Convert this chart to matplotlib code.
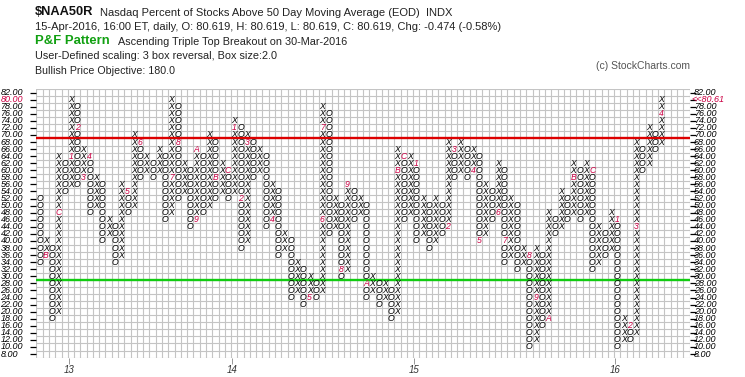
import matplotlib
matplotlib.use('Agg')
import matplotlib.pyplot as plt
from matplotlib import transforms

plt.rcParams['font.family'] = ['Liberation Sans', 'DejaVu Sans']

# ---- point & figure columns (box size 2.0, 3 box reversal) ----
col_kind = list('OXOXOXOXOXOXOXOXOXOXOXOXOXOXOXOXOXOXOXOXOXOXOXOXOXOXOXOXOXOXOXOXOXOXOXOXOXOXOXOXOXOXOXOXOXOXOXOXOXOX')
col_low = [34, 36, 18, 20, 54, 56, 56, 58, 48, 50,
           40, 42, 34, 36, 48, 50, 58, 60, 58, 60,
           46, 48, 52, 54, 44, 46, 48, 50, 52, 54,
           52, 54, 38, 40, 58, 60, 44, 46, 36, 38,
           24, 26, 22, 24, 24, 26, 42, 44, 30, 32,
           46, 48, 24, 26, 22, 24, 18, 20, 46, 48,
           40, 42, 38, 40, 42, 44, 58, 60, 58, 60,
           40, 42, 46, 48, 34, 36, 32, 34, 10, 12,
           16, 18, 42, 44, 46, 48, 46, 48, 32, 34,
           36, 38, 10, 12, 12, 14, 60, 62, 66, 68]
col_high = [52, 40, 38, 64, 62, 80, 78, 66, 64, 58,
            56, 46, 44, 56, 54, 70, 68, 64, 62, 66,
            64, 80, 78, 62, 60, 66, 64, 70, 68, 62,
            60, 74, 72, 70, 68, 66, 64, 56, 54, 42,
            40, 34, 32, 30, 28, 78, 76, 52, 50, 56,
            54, 52, 50, 30, 28, 28, 26, 66, 64, 64,
            62, 52, 50, 52, 50, 68, 66, 68, 66, 66,
            64, 56, 54, 62, 60, 52, 50, 38, 36, 38,
            36, 48, 46, 54, 52, 62, 60, 62, 60, 44,
            42, 48, 46, 18, 16, 68, 66, 72, 70, 80]

# month markers drawn in place of a box
mark_col = [1, 3, 5, 6, 7, 8, 14, 16, 21, 22, 25, 25, 28, 30,
            31, 32, 33, 37, 43, 45, 45, 48, 49, 52, 57, 58,
            60, 65, 66, 69, 70, 73, 74, 78, 79, 81, 85, 88,
            92, 94, 95, 99]
mark_price = [36, 48, 64, 72, 58, 64, 54, 68, 58, 68, 46, 66, 58, 60,
              72, 52, 68, 46, 24, 46, 72, 32, 56, 28, 60, 64,
              62, 44, 66, 60, 40, 48, 40, 36, 24, 18, 58, 60,
              46, 16, 44, 76]
mark_text = ['B', 'C', '1', '2', '3', '4', '5', '6', '7', '8', '9', 'A', 'B', 'C',
             '1', '2', '3', '4', '5', '6', '7', '8', '9', 'A', 'B', 'C',
             '1', '2', '3', '4', '5', '6', '7', '8', '9', 'A', 'B', 'C',
             '1', '2', '3', '4']

year_cols = [5, 31, 60, 92]
year_text = ['13', '14', '15', '16']

price_ticks = list(range(8, 84, 2))
last_price = 80.61
red_level = 69
green_level = 29
n_grid_cols = 104

W, H = 745, 377
fig = plt.figure(figsize=(W / 100, H / 100), dpi=100)
gx0, gx1, gy0, gy1 = 36.4, 689.5, 89.0, 357.6
ax = fig.add_axes([gx0 / W, 1 - gy1 / H, (gx1 - gx0) / W, (gy1 - gy0) / H])
ax.set_xlim(-0.5, n_grid_cols - 0.5)
ax.set_ylim(7, 83)
for s in ax.spines.values():
    s.set_visible(False)

# grid
for i in range(n_grid_cols + 1):
    ax.axvline(i - 0.5, color='#c4c4c4', lw=0.8, zorder=0)
for p in range(7, 84, 2):
    ax.axhline(p, color='#c4c4c4', lw=0.8, zorder=0)

ax.axhline(red_level, color='#dd0000', lw=1.7, zorder=1)
ax.axhline(green_level, color='#11cc11', lw=1.7, zorder=1)

# boxes: X / O, month number in place of the first box of a month
marks = {(c, p): t for c, p, t in zip(mark_col, mark_price, mark_text)}
for i, (k, lo, hi) in enumerate(zip(col_kind, col_low, col_high)):
    for p in range(lo, hi + 2, 2):
        t = marks.get((i, p))
        if t:
            ax.text(i, p, t, color='#cc0044', fontsize=6.2, style='italic',
                    ha='center', va='center', zorder=3)
        else:
            ax.text(i, p, k, color='black', fontsize=6.2, style='italic',
                    ha='center', va='center', zorder=3)

# axes ticks and labels
ax.set_yticks(price_ticks)
ax.set_yticklabels([])
ax.tick_params(axis='y', left=True, right=True, length=4, width=0.9,
               direction='out', color='black')
ax.set_xticks([c - 0.3 for c in year_cols])
ax.set_xticklabels(year_text, fontsize=7, style='italic', color='#333333')
ax.tick_params(axis='x', length=4, width=0.6, color='#888888', pad=1.5)

lt = transforms.blended_transform_factory(fig.transFigure, ax.transData)
for p in price_ticks:
    col = '#cc0044' if p == 80 else 'black'
    ax.text(0.5 / W, p, '%.2f' % p, transform=lt, fontsize=6.5, style='italic',
            color=col, ha='left', va='center')
    if p == 80:
        ax.text(691 / W, p, '<<%.2f' % last_price, transform=lt, fontsize=6.5,
                style='italic', color='#cc0044', ha='left', va='center')
    else:
        ax.text(694 / W, p, '%.2f' % p, transform=lt, fontsize=6.5,
                style='italic', color='black', ha='left', va='center')

# header text
def ftext(x, y, s, **kw):
    fig.text(x / W, 1 - y / H, s, va='center', ha='left', **kw)

ftext(35, 12, '$NAA50R', fontsize=9.3, fontweight='bold', color='#111111')
ftext(100, 12.5, 'Nasdaq Percent of Stocks Above 50 Day Moving Average (EOD)  INDX',
      fontsize=8, color='#222222')
ftext(35, 27, '15-Apr-2016, 16:00 ET, daily, O: 80.619, H: 80.619, L: 80.619, '
      'C: 80.619, Chg: -0.474 (-0.58%)', fontsize=8, color='#222222')
ftext(35, 41, 'P&F Pattern', fontsize=9.4, fontweight='bold', color='#11a011')
ftext(118, 42, 'Ascending Triple Top Breakout on 30-Mar-2016', fontsize=7.8,
      color='#222222')
ftext(35, 56, 'User-Defined scaling: 3 box reversal, Box size:2.0', fontsize=7.85,
      color='#222222')
ftext(35, 71, 'Bullish Price Objective: 180.0', fontsize=7.7, color='#222222')
ftext(596, 66, '(c) StockCharts.com', fontsize=7.5, color='#555555')

fig.savefig('out.png', dpi=100)
